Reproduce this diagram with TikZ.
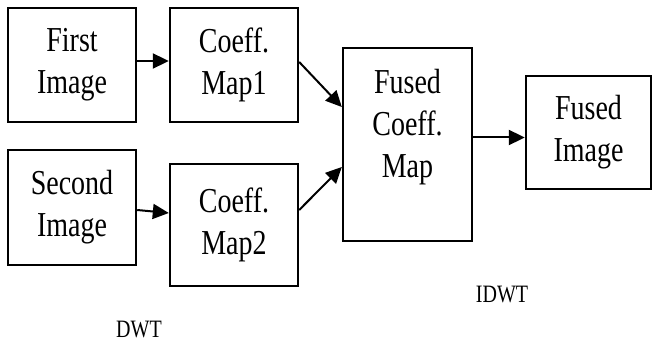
\documentclass[tikz,border=0pt]{standalone}
\usepackage{fontspec}
\setmainfont[FakeStretch=0.8]{Liberation Serif}
\usetikzlibrary{arrows.meta}

\begin{document}
\begin{tikzpicture}[x=1pt, y=-1pt,
  box/.style={draw, line width=2.4pt, inner sep=0pt, align=center,
    font=\fontsize{35}{42}\selectfont},
  link/.style={line width=2pt, -{Triangle[length=16pt,width=15pt]}},
  stage/.style={font=\fontsize{25}{30}\selectfont}]
\useasboundingbox (0,0) rectangle (652,347);
\node[box, minimum width=128pt, minimum height=114pt] (first) at (72,65) {First\\Image};
\node[box, minimum width=128pt, minimum height=114pt] (map1) at (234,65) {Coeff.\\Map1};
\node[box, minimum width=128pt, minimum height=115pt] (second) at (72,207.5) {Second\\Image};
\node[box, minimum width=128pt, minimum height=122pt] (map2) at (234,225) {Coeff.\\Map2};
\node[box, minimum width=129pt, minimum height=193pt,
  label={[name=fusedtext, anchor=north, align=center, yshift=-19pt,
    font=\fontsize{35}{42}\selectfont]north:Fused\\Coeff.\\Map}] (fused) at (407.5,144.5) {};
\node[box, minimum width=125pt, minimum height=113pt] (out) at (588.5,132.5) {Fused\\Image};
\node[stage] (dwt) at (139,330) {DWT};
\node[stage] (idwt) at (502,295) {IDWT};
% connectors
\draw[link] ([yshift=4pt]first.east) -- ([yshift=4pt]map1.west);
\draw[link] ([yshift=-2.5pt]second.east) -- ([yshift=12pt]map2.west);
\draw[link] ([yshift=3pt]map1.east) -- ([yshift=37.5pt]fused.west);
\draw[link] ([yshift=15pt]map2.east) -- ([yshift=-22.5pt]fused.west);
\draw[link] ([yshift=7pt]fused.east) -- ([yshift=7pt]fused.east -| out.west);
\end{tikzpicture}
\end{document}
